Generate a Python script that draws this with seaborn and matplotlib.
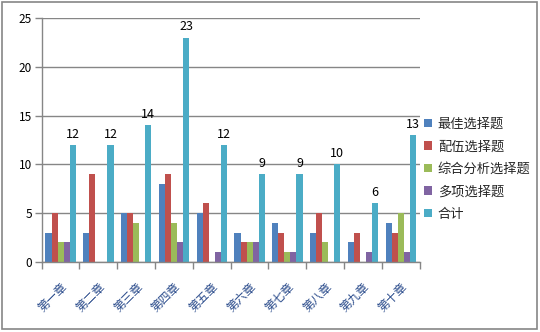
import matplotlib
matplotlib.use("Agg")
import matplotlib.pyplot as plt
import seaborn as sns
import pandas as pd
from matplotlib.patches import Rectangle

chapters = ["第一章", "第二章", "第三章", "第四章", "第五章", "第六章", "第七章", "第八章", "第九章", "第十章"]
series = ["最佳选择题", "配伍选择题", "综合分析选择题", "多项选择题", "合计"]
best = [3, 3, 5, 8, 5, 3, 4, 3, 2, 4]
match = [5, 9, 5, 9, 6, 2, 3, 5, 3, 3]
comp = [2, 0, 4, 4, 0, 2, 1, 2, 0, 5]
multi = [2, 0, 0, 2, 1, 2, 1, 0, 1, 1]
total = [12, 12, 14, 23, 12, 9, 9, 10, 6, 13]
colors = ["#4F81BD", "#C0504D", "#9BBB59", "#8064A2", "#4BACC6"]
yticks = [0, 5, 10, 15, 20, 25]

sns.set_style("white")
plt.rcParams['font.family'] = ['Noto Sans CJK SC', 'DejaVu Sans']

rows = []
for name, vals in zip(series, [best, match, comp, multi, total]):
    for ch, v in zip(chapters, vals):
        rows.append({"章": ch, "题型": name, "数量": v})
df = pd.DataFrame(rows)

fig = plt.figure(figsize=(5.4, 3.32), dpi=100)
ax = fig.add_axes([0.0772, 0.2108, 0.700, 0.735])

sns.barplot(data=df, x="章", y="数量", hue="题型", hue_order=series, order=chapters,
            palette=colors, saturation=1, width=0.8, ax=ax, legend=True, errorbar=None,
            linewidth=0, edgecolor="none")

ax.set_ylim(0, 25)
ax.set_xlim(-0.5, 9.5)
ax.set_yticks(yticks)
ax.set_yticklabels([str(t) for t in yticks], fontsize=8.5, color="black")
ax.yaxis.grid(True, color="#868686", linewidth=1)
ax.set_axisbelow(True)
ax.set_xlabel("")
ax.set_ylabel("")

for s in ["top", "right"]:
    ax.spines[s].set_visible(False)
for s in ["left", "bottom"]:
    ax.spines[s].set_color("#868686")
    ax.spines[s].set_linewidth(1)

ax.tick_params(axis="y", length=5, color="#868686", width=1, left=True, pad=2)
# category boundary ticks
ax.set_xticks([i - 0.5 for i in range(11)], minor=False)
ax.set_xticklabels([""] * 11)
ax.tick_params(axis="x", which="major", length=5, color="#868686", width=1, bottom=True)
ax.set_xticks(range(10), minor=True)
ax.set_xticklabels(chapters, minor=True, rotation=45, ha="right", rotation_mode="anchor",
                   fontsize=8.5, color="#2B4C8C")
ax.tick_params(axis="x", which="minor", length=0, pad=13)

ax.bar_label(ax.containers[4], labels=[str(v) for v in total], fontsize=9, padding=3, color="black")

leg = ax.legend(loc="center left", bbox_to_anchor=(424 / 540, 0.49), bbox_transform=fig.transFigure,
                frameon=False, fontsize=9.5, handlelength=0.6, handleheight=0.6,
                handletextpad=0.45, labelspacing=0.72, borderaxespad=0, borderpad=0)

fig.patches.append(Rectangle((0.004, 0.009), 0.991, 0.985, transform=fig.transFigure,
                             fill=False, edgecolor="#868686", linewidth=1.2))

fig.savefig("out.png", dpi=100)
